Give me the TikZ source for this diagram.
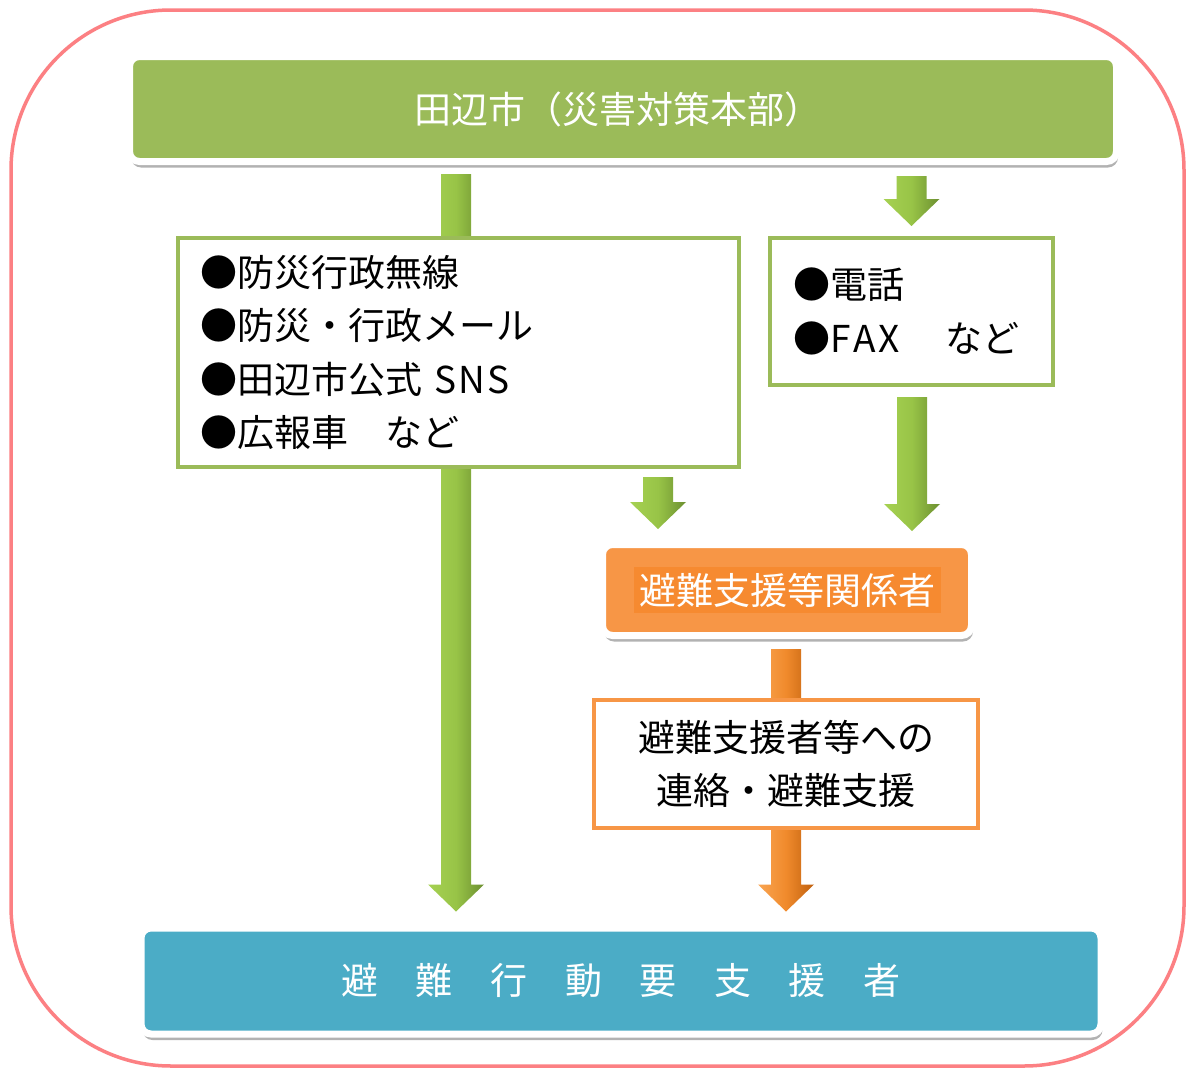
\documentclass[tikz,border=0pt]{standalone}
\usepackage{fontspec}
\newfontfamily\jp{Noto Sans CJK JP}
\usetikzlibrary{calc,shadows,backgrounds}
\definecolor{gfill}{HTML}{9BBB59}
\definecolor{ofill}{HTML}{F79646}
\definecolor{ohl}{HTML}{F68A30}
\definecolor{bfill}{HTML}{4BACC6}
\definecolor{framec}{HTML}{FC8083}
\definecolor{garL}{HTML}{A6D152}
\definecolor{garM}{HTML}{98C447}
\definecolor{garR}{HTML}{6C8F30}
\definecolor{oarL}{HTML}{F9A552}
\definecolor{oarM}{HTML}{F08A2C}
\definecolor{oarR}{HTML}{C0600E}
\newcommand{\blockarrow}[3]{%
 \path[#3] let \p1=(#1), \p2=(#2) in
  (\x1-15pt,\y1) -- (\x1+15pt,\y1) -- (\x1+15pt,\y2+27pt) -- (\x1+28pt,\y2+27pt)
  -- (\x1,\y2) -- (\x1-28pt,\y2+27pt) -- (\x1-15pt,\y2+27pt) -- cycle;}
\begin{document}
\begin{tikzpicture}[x=1pt,y=-1pt,
  every node/.style={font=\jp\fontsize{37}{53.5}\selectfont, inner sep=0pt},
  filledbox/.style={draw=white, line width=7pt, rounded corners=10pt, text=white,
    drop shadow={shadow xshift=1.5pt, shadow yshift=-6pt, fill=black, opacity=0.3}},
  linebox/.style={draw, line width=4pt, fill=white},
  garrow/.style={left color=garL, right color=garR, middle color=garM},
  oarrow/.style={left color=oarL, right color=oarR, middle color=oarM}]
\useasboundingbox (0,0) rectangle (1187,1068);
% nodes
\node[filledbox, fill=gfill, minimum width=987, minimum height=105] (top) at (623,109)
  {\hspace*{-10pt}田辺市（災害対策本部）};
\node[linebox, draw=gfill, minimum width=561, minimum height=229, text width=517,
  inner xsep=22pt, align=left] (list) at (458.5,352.5)
  {●防災行政無線\\●防災・行政メール\\●田辺市公式 S\kern2pt N\kern2pt S\\●広報車　など};
\node[linebox, draw=gfill, minimum width=283, minimum height=147, text width=237,
  inner xsep=23pt, align=left] (rbox) at (911.5,311.5)
  {●電話\\●F\kern3pt A\kern3pt X\hspace{8pt}　など};
\node[filledbox, fill=ofill, minimum width=369, minimum height=91] (obox) at (787,590)
  {\setlength\fboxsep{5.5pt}\colorbox{ohl}{避難支援等関係者}};
\node[linebox, draw=ofill, minimum width=384, minimum height=128, align=center] (obox2) at (786,764)
  {避難支援者等への\\連絡・避難支援};
\node[filledbox, fill=bfill, minimum width=960, minimum height=106] (bottom) at (621,981)
  {避\hspace{37.6pt}難\hspace{37.6pt}行\hspace{37.6pt}動\hspace{37.6pt}要\hspace{37.6pt}支\hspace{37.6pt}援\hspace{37.6pt}者};
% connector end points
\coordinate (a1s) at ($(top.south -| list.center)+(-2.5,9)$);
\coordinate (a1e) at ($(bottom.north -| a1s)+(0,-13)$);
\coordinate (a2s) at ($(top.south -| rbox.center)+(0,11)$);
\coordinate (a2e) at ($(rbox.north)+(0,-10)$);
\coordinate (a3s) at ($(list.south -| obox.center)+(-129,8)$);
\coordinate (a3e) at ($(obox.north -| a3s)+(0,-12)$);
\coordinate (a4s) at ($(rbox.south)+(0.5,10)$);
\coordinate (a4e) at ($(obox.north -| a4s)+(0,-10)$);
\coordinate (a5s) at ($(obox.south -| obox2.center)+(0,10)$);
\coordinate (a5e) at ($(bottom.north -| a5s)+(0,-13)$);
\begin{scope}[on background layer]
  \fill[white] (0,0) rectangle (1187,1068);
  \draw[framec, line width=3.5pt, rounded corners=160pt] (11,10) rectangle (1184,1066);
  \blockarrow{a1s}{a1e}{garrow}
  \blockarrow{a2s}{a2e}{garrow}
  \blockarrow{a3s}{a3e}{garrow}
  \blockarrow{a4s}{a4e}{garrow}
  \blockarrow{a5s}{a5e}{oarrow}
\end{scope}
\end{tikzpicture}
\end{document}
